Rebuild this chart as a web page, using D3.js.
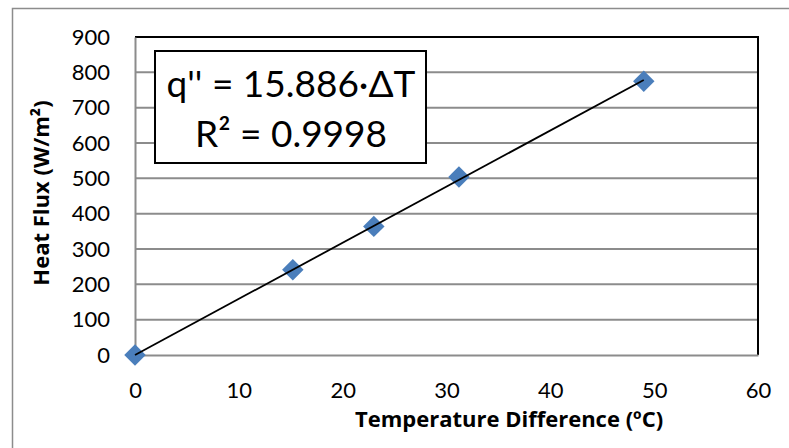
<!DOCTYPE html>
<html>
<head>
<meta charset="utf-8">
<script src="https://cdn.jsdelivr.net/npm/d3@7"></script>
<style>
  body { margin: 0; background: #fff; }
  svg { display: block; font-family: Lato, "Open Sans", sans-serif; }
</style>
</head>
<body>
<svg id="chart"></svg>
<script>
// data
const deltaT = [0, 15.2, 23.0, 31.2, 49.0];
const heatFlux = [0, 241, 364, 504, 775];
const xTicks = [0, 10, 20, 30, 40, 50, 60];
const yTicks = [0, 100, 200, 300, 400, 500, 600, 700, 800, 900];
const slope = 15.886;
const eqLines = ["q'' = 15.886\u00b7\u0394T", "R\u00b2 = 0.9998"];

const W = 789, H = 448;
const margin = {top: 37, right: 31, bottom: 93, left: 135};
const width = W - margin.left - margin.right;
const height = H - margin.top - margin.bottom;

const svg = d3.select('#chart').attr('width', W).attr('height', H);

// outer chart border (runs off the right and bottom)
svg.append('rect')
    .attr('x', 12.5).attr('y', 8.5)
    .attr('width', W).attr('height', H)
    .attr('fill', 'none').attr('stroke', '#8c8c8c').attr('stroke-width', 1.5);

const chart = svg.append('g')
    .attr('transform', `translate(${margin.left}, ${margin.top})`);

const xScale = d3.scaleLinear().domain([0, 60]).range([0, width]);
const yScale = d3.scaleLinear().domain([0, 900]).range([height, 0]);

// gridlines
chart.append('g').selectAll('line')
    .data(yTicks.filter(d => d > 0 && d < 900))
    .join('line')
    .attr('x1', 0).attr('x2', width)
    .attr('y1', d => yScale(d)).attr('y2', d => yScale(d))
    .attr('stroke', '#8c8c8c').attr('stroke-width', 2);

// top and right border of plot area
chart.append('path')
    .attr('d', `M0,${yScale(900)}H${width}V${height}`)
    .attr('fill', 'none').attr('stroke', '#000').attr('stroke-width', 2);

// axes
const xAxis = d3.axisBottom(xScale).tickValues(xTicks).tickSize(0).tickPadding(27);
const yAxis = d3.axisLeft(yScale).tickValues(yTicks).tickSize(0).tickPadding(25);

const xAxisGroup = chart.append('g')
    .attr('class', 'axis x-axis')
    .attr('transform', 'translate(0,' + height + ')')
    .call(xAxis);
const yAxisGroup = chart.append('g')
    .attr('class', 'axis y-axis')
    .call(yAxis);

[xAxisGroup, yAxisGroup].forEach(g => {
    g.select('.domain').attr('stroke', '#8c8c8c').attr('stroke-width', 2);
    g.selectAll('text').attr('font-size', 22).attr('fill', '#000')
        .attr('font-family', 'Lato, "Open Sans", sans-serif');
});

// trendline through origin over data range
const xMax = d3.max(deltaT);

// diamonds
chart.selectAll('.pt')
    .data(deltaT.map((d, i) => ({x: d, y: heatFlux[i]})))
    .join('path')
    .attr('class', 'pt')
    .attr('d', d3.symbol().type(d3.symbolSquare).size(230))
    .attr('transform', d => `translate(${xScale(d.x)},${yScale(d.y)}) rotate(45)`)
    .attr('fill', '#4a7ebb');

// trendline on top of the markers
chart.append('line')
    .attr('x1', xScale(0)).attr('y1', yScale(0))
    .attr('x2', xScale(xMax)).attr('y2', yScale(slope * xMax))
    .attr('stroke', '#000').attr('stroke-width', 1.8);

// equation box
const box = svg.append('g').attr('transform', 'translate(155, 51)');
box.append('rect')
    .attr('width', 271).attr('height', 112)
    .attr('fill', '#fff').attr('stroke', '#000').attr('stroke-width', 2);
box.selectAll('text')
    .data(eqLines)
    .join('text')
    .attr('x', 136).attr('y', (d, i) => 46 + i * 50)
    .attr('text-anchor', 'middle')
    .attr('font-size', 37)
    .text(d => d);

// axis titles
svg.append('text')
    .attr('x', 509).attr('y', 427)
    .attr('text-anchor', 'middle')
    .attr('font-family', '"Open Sans", sans-serif')
    .attr('font-size', 22).attr('font-weight', 'bold')
    .text('Temperature Difference (\u00baC)');

svg.append('text')
    .attr('transform', 'translate(49, 193) rotate(-90)')
    .attr('text-anchor', 'middle')
    .attr('font-family', '"Open Sans", sans-serif')
    .attr('font-size', 22).attr('font-weight', 'bold')
    .text('Heat Flux (W/m\u00b2)');
</script>
</body>
</html>
